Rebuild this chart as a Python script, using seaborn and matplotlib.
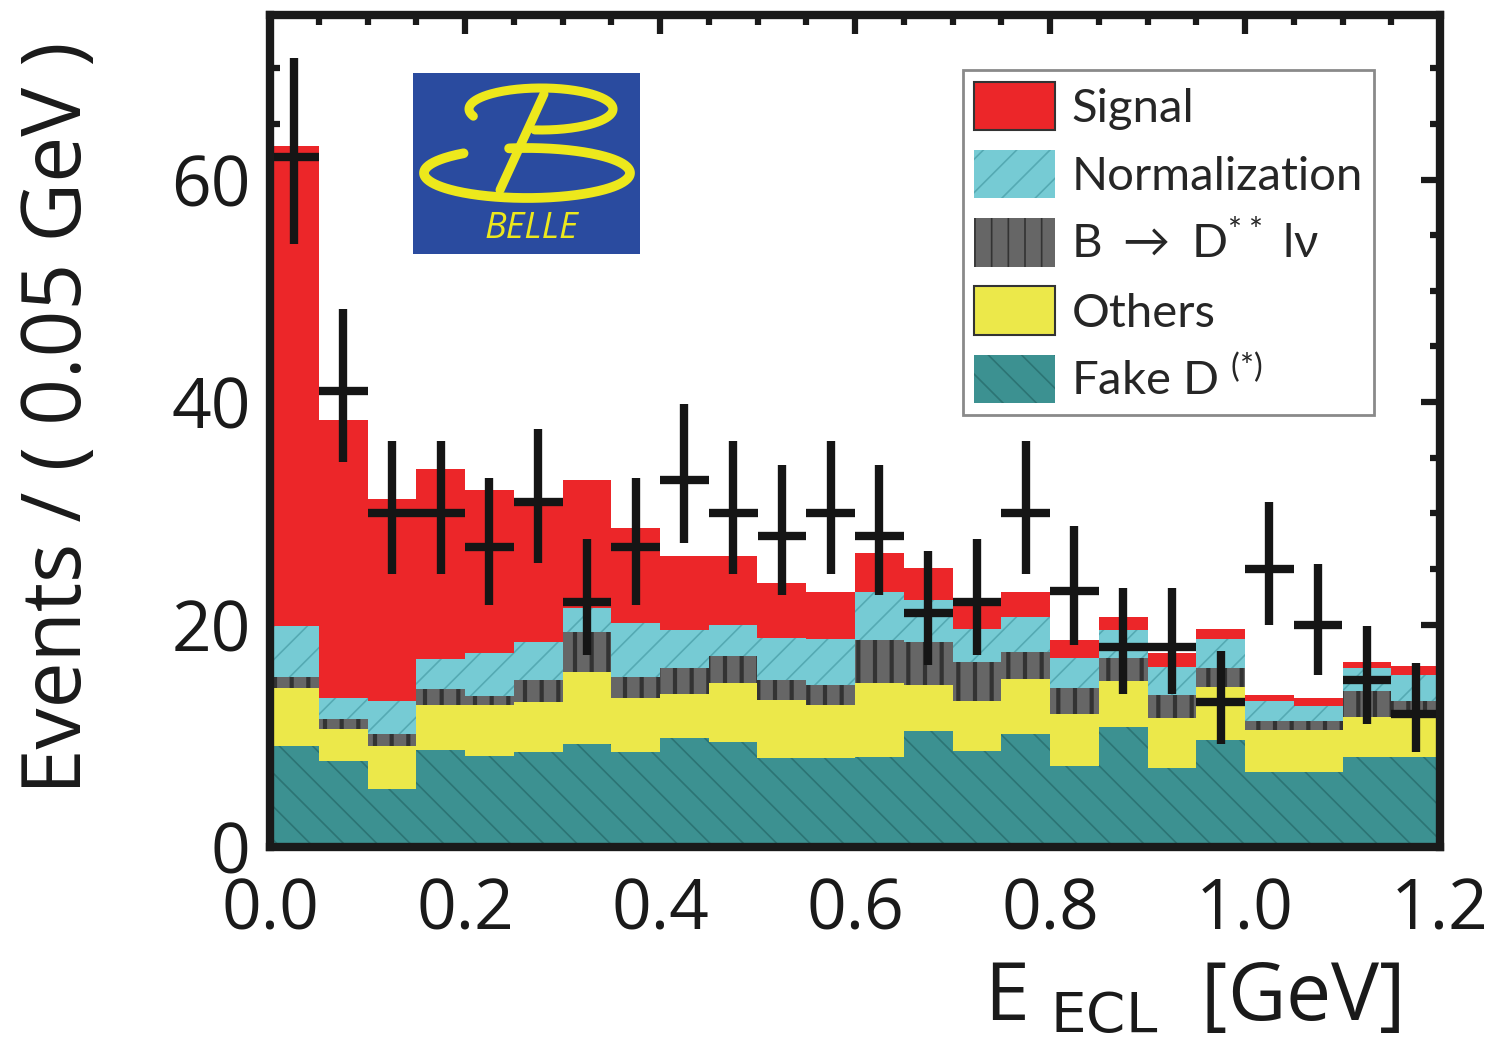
import numpy as np
import pandas as pd
import matplotlib
matplotlib.use("Agg")
import matplotlib.pyplot as plt
import matplotlib.colors as mcolors
from matplotlib.patches import Patch
from matplotlib.ticker import MultipleLocator, FormatStrFormatter
import seaborn as sns

# ---- binning of E_ECL (GeV) ----
bin_width = 0.05
e_range = (0.0, 1.2)

# ---- fitted components per bin (events / 0.05 GeV) ----
signal = [43.1, 25.0, 18.2, 17.1, 14.7, 12.4, 11.5, 8.6, 6.7, 6.2, 4.9, 4.2,
          3.5, 2.9, 2.7, 2.2, 1.6, 1.2, 1.2, 0.9, 0.6, 0.7, 0.5, 0.8]
normalization = [4.6, 1.9, 2.9, 2.7, 3.8, 3.4, 2.2, 4.8, 3.4, 2.8, 3.8, 4.1,
                 4.3, 3.8, 3.0, 3.2, 2.7, 2.5, 2.5, 2.6, 1.8, 1.4, 2.1, 2.4]
d_star_star = [1.0, 0.9, 1.1, 1.4, 0.8, 2.0, 3.6, 1.9, 2.3, 2.5, 1.8, 1.8,
               3.9, 3.8, 3.5, 2.4, 2.3, 2.1, 2.1, 1.7, 0.8, 0.8, 2.3, 1.5]
others = [5.2, 2.9, 3.9, 4.1, 4.6, 4.5, 6.4, 4.9, 4.0, 5.3, 5.2, 4.8,
          6.6, 4.2, 4.5, 4.9, 4.7, 4.1, 4.5, 4.8, 3.8, 3.8, 3.6, 3.5]
fake_d = [9.1, 7.7, 5.2, 8.7, 8.2, 8.5, 9.3, 8.5, 9.8, 9.4, 8.0, 8.0,
          8.1, 10.4, 8.6, 10.2, 7.3, 10.8, 7.1, 9.6, 6.7, 6.7, 8.1, 8.1]

# ---- observed data with asymmetric errors ----
data_counts = [62, 41, 30, 30, 27, 31, 22, 27, 33, 30, 28, 30,
               28, 21, 22, 30, 23, 18, 18, 13, 25, 20, 15, 12]
err_low = [7.8, 6.4, 5.5, 5.5, 5.2, 5.5, 4.7, 5.2, 5.7, 5.5, 5.3, 5.5,
           5.3, 4.6, 4.7, 5.5, 4.8, 4.2, 4.2, 3.7, 5.0, 4.5, 3.9, 3.5]
err_high = [8.9, 7.4, 6.5, 6.5, 6.2, 6.6, 5.7, 6.2, 6.8, 6.5, 6.3, 6.5,
            6.3, 5.6, 5.7, 6.5, 5.9, 5.3, 5.3, 4.6, 6.0, 5.4, 4.9, 4.5]

component_names = ["Signal", "Normalization", "Dss", "Others", "Fake"]
component_values = [signal, normalization, d_star_star, others, fake_d]
legend_labels = ["Signal", "Normalization", r"B $\rightarrow$ D$^{**}$ l$\nu$",
                 "Others", r"Fake D $^{(*)}$"]

fill_colors = {"Signal": "#EC2629", "Normalization": "#76CBD4", "Dss": "#666666",
               "Others": "#ECE84A", "Fake": "#3C9191"}
hatches = {"Signal": None, "Normalization": "/", "Dss": "|", "Others": None, "Fake": "\\"}
hatch_colors = {"Signal": "#EC2629", "Normalization": "#55AAB3", "Dss": "#333333",
                "Others": "#ECE84A", "Fake": "#2C7474"}

n_bins = len(signal)
centers = e_range[0] + bin_width * (np.arange(n_bins) + 0.5)

frames = []
for name, vals in zip(component_names, component_values):
    frames.append(pd.DataFrame({"E": centers, "w": vals, "comp": name}))
df = pd.concat(frames, ignore_index=True)

sns.set_theme(style="ticks")
plt.rcParams["font.family"] = ["Open Sans", "DejaVu Sans"]
plt.rcParams["mathtext.default"] = "regular"
plt.rcParams["hatch.linewidth"] = 1.2

fig = plt.figure(figsize=(15.02, 10.52), dpi=100)
ax = fig.add_axes([270 / 1502, 1 - 847 / 1052, 1170 / 1502, 832 / 1052])

sns.histplot(data=df, x="E", weights="w", hue="comp", hue_order=component_names,
             palette=fill_colors, multiple="stack", element="step", fill=True,
             binwidth=bin_width, binrange=e_range, alpha=1, linewidth=0,
             legend=False, ax=ax)

# hatch the stacked layers
color_to_name = {mcolors.to_hex(c): n for n, c in fill_colors.items()}
for coll in ax.collections:
    fc = coll.get_facecolor()
    if len(fc) == 0:
        continue
    name = color_to_name.get(mcolors.to_hex(fc[0]))
    if name is None:
        continue
    coll.set_linewidth(0)
    if hatches[name]:
        coll.set_edgecolor(hatch_colors[name])
        coll.set_hatch(hatches[name])
        if name == "Dss" and hasattr(coll, "set_hatch_linewidth"):
            coll.set_hatch_linewidth(3.0)

# data points
ax.errorbar(centers, data_counts, xerr=bin_width / 2, yerr=[err_low, err_high],
            fmt="none", ecolor="#151515", elinewidth=6, capsize=0, zorder=5)

ax.set_xlim(*e_range)
ax.set_ylim(0, 74.8)
ax.xaxis.set_major_locator(MultipleLocator(0.2))
ax.xaxis.set_minor_locator(MultipleLocator(0.05))
ax.xaxis.set_major_formatter(FormatStrFormatter("%.1f"))
ax.yaxis.set_major_locator(MultipleLocator(20))
ax.yaxis.set_minor_locator(MultipleLocator(5))

ax.tick_params(which="both", direction="in", top=True, right=True,
               color="#1a1a1a", width=4.5, labelsize=50, labelcolor="#1a1a1a")
ax.tick_params(which="major", length=14)
ax.tick_params(which="minor", length=7)
ax.tick_params(axis="x", pad=21)
ax.tick_params(axis="y", pad=14)
for sp in ax.spines.values():
    sp.set_linewidth(6)
    sp.set_color("#1a1a1a")
    sp.set_zorder(10)

ax.set_ylabel("Events / ( 0.05 GeV )", fontsize=59, color="#1a1a1a")
ax.yaxis.set_label_coords(-0.18, 0.516)
ax.yaxis.label.set_va("center")
ax.set_xlabel(r"E $_{\mathrm{ECL}}$  [GeV]", fontsize=58, color="#1a1a1a", ha="right")
ax.xaxis.set_label_coords(0.966, -0.135)

# legend
handles = []
for name in component_names:
    edge = "#333333" if hatches[name] is None else hatch_colors[name]
    handles.append(Patch(facecolor=fill_colors[name], edgecolor=edge,
                         hatch=hatches[name], linewidth=1.5 if hatches[name] is None else 0))
leg = ax.legend(handles, legend_labels, loc="upper left", bbox_to_anchor=(0.592, 0.934),
                prop={"family": ["Lato", "DejaVu Sans"], "size": 34}, frameon=True,
                fancybox=False, framealpha=1, edgecolor="#8a8a8a", borderpad=0.25,
                handlelength=1.7, handleheight=1.2, handletextpad=0.35,
                labelspacing=0.42, borderaxespad=0)
leg.get_frame().set_linewidth(2)
leg.set_zorder(6)

# experiment logo
lax = fig.add_axes([413 / 1502, 1 - 254 / 1052, 227 / 1502, 181 / 1052])
lax.set_facecolor("#2A4B9F")
lax.set_xlim(0, 227)
lax.set_ylim(181, 0)
lax.set_xticks([])
lax.set_yticks([])
for sp in lax.spines.values():
    sp.set_visible(False)
logo_yellow = "#EDE81C"
t_up = np.radians(np.linspace(-95, 200, 200))
lax.plot(128 + 72 * np.cos(t_up), 36 - 21 * np.sin(t_up), color=logo_yellow,
         lw=6.5, solid_capstyle="round")
t_lo = np.radians(np.linspace(128, 460, 260))
lax.plot(114 + 103 * np.cos(t_lo), 100 - 25 * np.sin(t_lo), color=logo_yellow,
         lw=7, solid_capstyle="round")
lax.plot([131, 87], [21, 117], color=logo_yellow, lw=6.5, solid_capstyle="round")
lax.text(118, 156, "BELLE", color=logo_yellow, fontsize=26, style="italic",
         ha="center", va="center", family=["Open Sans", "DejaVu Sans"])

fig.savefig("out.png", dpi=100)
